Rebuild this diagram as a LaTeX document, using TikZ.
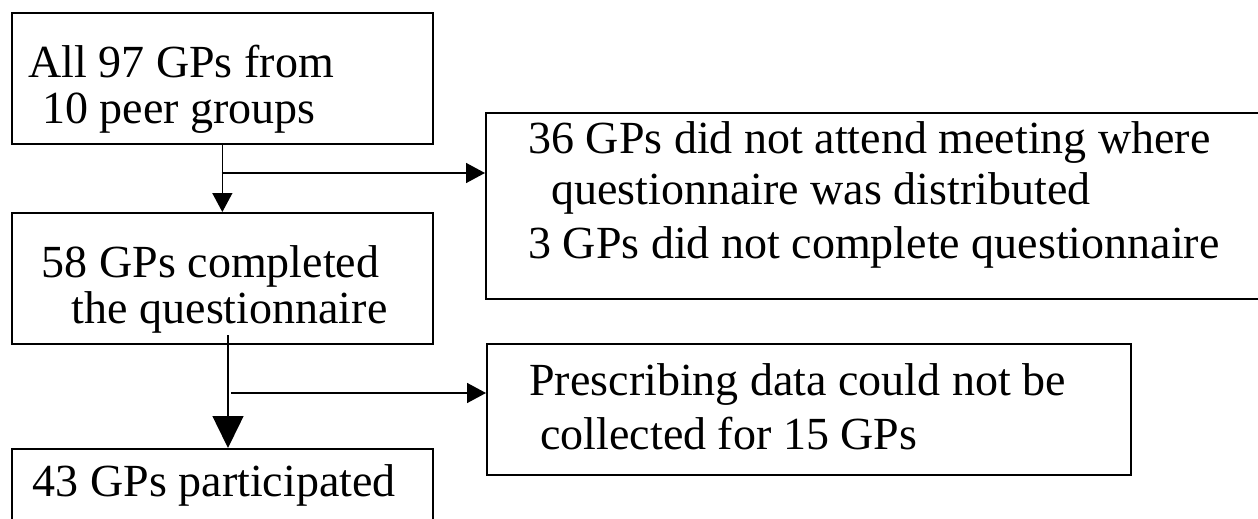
\documentclass[tikz,border=0pt]{standalone}
\usepackage{fontspec}
\setmainfont{Liberation Serif}
\usetikzlibrary{arrows.meta}

\begin{document}
\begin{tikzpicture}[x=0.5pt,y=-0.5pt,
  caja/.style={draw,line width=0.85pt,anchor=north west,inner sep=0pt},
  texto/.style={anchor=base west,inner sep=0pt,font=\fontsize{23}{27}\selectfont},
  flecha/.style={line width=0.75pt,-{Triangle[length=9.5pt,width=10pt]}},
  flechagrande/.style={line width=0.75pt,-{Triangle[length=16pt,width=15.5pt]}}]
  % Marco
  \clip (0,0) rectangle (1258,519);
  % Cajas de la izquierda
  \node[caja,minimum width=210.5pt,minimum height=65.5pt] (todos) at (11,12) {};
  \node[caja,minimum width=210.5pt,minimum height=65.5pt] (completos) at (11,212) {};
  \node[caja,minimum width=210.5pt,minimum height=60pt] (particip) at (11,448) {};
  % Cajas de la derecha
  \node[caja,minimum width=395pt,minimum height=93pt] (ausentes) at (485,112) {};
  \node[caja,minimum width=322pt,minimum height=65.5pt] (sindatos) at (486,343) {};
  % Textos
  \node[texto] (todos1) at (28,78) {All 97 GPs from};
  \node[texto] (todos2) at (42,124) {10 peer groups};
  \node[texto] (completos1) at (41.5,277) {58 GPs completed};
  \node[texto] (completos2) at (71.5,323) {the questionnaire};
  \node[texto] (particip1) at (32.5,496) {43 GPs participated};
  \node[texto] (ausentes1) at (528,154) {36 GPs did not attend meeting where};
  \node[texto] (ausentes2) at (551,204) {questionnaire was distributed};
  \node[texto] (ausentes3) at (528,258) {3 GPs did not complete questionnaire};
  \node[texto] (sindatos1) at (529,395) {Prescribing data could not be};
  \node[texto] (sindatos2) at (540,449) {collected for 15 GPs};
  % Primera flecha
  \draw[flecha] (todos.south) -- (completos.north);
  \coordinate (rama1) at (221.5,173);
  \draw[flecha] (rama1) -- (rama1 -| ausentes.west);
  % Segunda flecha
  \coordinate (inicio2) at (228,335);
  \draw[flechagrande] (inicio2) -- (inicio2 |- particip.north);
  \coordinate (rama2) at (231,393);
  \draw[flecha] (rama2) -- (rama2 -| sindatos.west);
\end{tikzpicture}
\end{document}
